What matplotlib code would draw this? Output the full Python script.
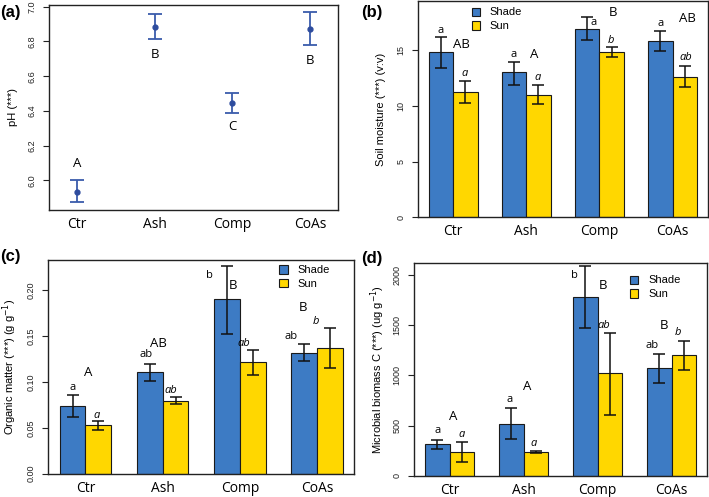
import matplotlib
matplotlib.use('Agg')
import matplotlib.pyplot as plt
import numpy as np

# ---------------- data ----------------
categories = ['Ctr', 'Ash', 'Comp', 'CoAs']

# (a) pH
ph_mean = [5.935, 6.886, 6.447, 6.871]
ph_low = [5.875, 6.817, 6.391, 6.777]
ph_high = [6.000, 6.961, 6.505, 6.971]
ph_letters = ['A', 'B', 'C', 'B']
ph_letter_y = [6.098, 6.727, 6.309, 6.693]

# (b) soil moisture
moist_shade = [14.85, 13.00, 16.90, 15.80]
moist_shade_lo = [13.39, 11.90, 15.89, 14.88]
moist_shade_hi = [16.19, 13.96, 17.95, 16.70]
moist_sun = [11.25, 11.01, 14.79, 12.62]
moist_sun_lo = [10.21, 10.18, 14.35, 11.73]
moist_sun_hi = [12.23, 11.88, 15.24, 13.54]
moist_shade_letters = ['a', 'a', 'a', 'a']
moist_group_letters = ['AB', 'A', 'B', 'AB']
moist_sun_letters = ['a', 'a', 'b', 'ab']

# (c) organic matter
om_shade = [0.0742, 0.1109, 0.1902, 0.1316]
om_shade_lo = [0.0615, 0.1011, 0.1520, 0.1225]
om_shade_hi = [0.0858, 0.1200, 0.2269, 0.1418]
om_sun = [0.0527, 0.0796, 0.1218, 0.1371]
om_sun_lo = [0.0476, 0.0756, 0.1080, 0.1149]
om_sun_hi = [0.0571, 0.0836, 0.1345, 0.1589]
om_shade_letters = ['a', 'ab', 'b', 'ab']
om_group_letters = ['A', 'AB', 'B', 'B']
om_sun_letters = ['a', 'ab', 'ab', 'b']

# (d) microbial biomass C
mb_shade = [315, 520, 1775, 1070]
mb_shade_lo = [272, 368, 1467, 924]
mb_shade_hi = [354, 676, 2083, 1215]
mb_sun = [238, 238, 1020, 1202]
mb_sun_lo = [142, 232, 606, 1050]
mb_sun_hi = [334, 248, 1417, 1344]
mb_shade_letters = ['a', 'a', 'b', 'ab']
mb_group_letters = ['A', 'A', 'B', 'B']
mb_sun_letters = ['a', 'a', 'ab', 'b']

# ---------------- annotation placement (data coords) ----------------
moist_shade_lpos = [(1.48, 16.79), (4.49, 14.64), (7.77, 17.47), (10.50, 17.38)]
moist_group_lpos = [(2.34, 15.54), (5.31, 14.64), (8.54, 18.36), (11.61, 17.86)]
moist_sun_lpos = [(2.47, 12.86), (5.47, 12.50), (8.48, 15.89), (11.55, 14.29)]

om_shade_lpos = [(1.49, 0.0938), (4.35, 0.130), (6.81, 0.216), (9.99, 0.1495)]
om_group_lpos = [(2.12, 0.110), (4.84, 0.1418), (7.74, 0.205), (10.46, 0.181)]
om_sun_lpos = [(2.45, 0.064), (5.32, 0.0909), (8.13, 0.1415), (10.96, 0.1665)]

mb_shade_lpos = [(1.50, 450), (4.45, 762), (7.06, 1993), (10.21, 1295)]
mb_group_lpos = [(2.14, 596), (5.16, 887), (8.22, 1897), (10.67, 1500)]
mb_sun_lpos = [(2.48, 417), (5.42, 321), (8.24, 1493), (11.24, 1427)]

# ---------------- style ----------------
BLUE = '#3D7BC4'
YELLOW = '#FFD700'
PT_BLUE = '#2E4C9E'
LINE_BLUE = '#3A5CAB'
EDGE = '#1a1a1a'
SPINE = '#222222'
TICKFONT = 'Liberation Sans'
LABFONT = 'Open Sans'

W, H = 709, 497
fig = plt.figure(figsize=(W / 100, H / 100), dpi=100)


def px_axes(l, t, r, b):
    return fig.add_axes([l / W, 1 - b / H, (r - l) / W, (b - t) / H])


def style_axes(ax, yticks, ylabels):
    for s in ax.spines.values():
        s.set_linewidth(1.0)
        s.set_color(SPINE)
    ax.set_yticks(yticks)
    ax.set_yticklabels(ylabels, rotation=90, va='center',
                       fontsize=6.5, family=TICKFONT, color='#222222')
    ax.tick_params(axis='y', direction='out', length=4.3, width=0.8,
                   color=SPINE, pad=4.5)
    ax.tick_params(axis='x', length=0, pad=5)


# ---------- (a) ----------
axa = px_axes(49, 5, 338, 210)
xa = np.arange(1, 5)
mean = np.array(ph_mean)
yerr = np.vstack([mean - np.array(ph_low), np.array(ph_high) - mean])
axa.errorbar(xa, mean, yerr=yerr, fmt='o', color=PT_BLUE, ecolor=LINE_BLUE,
             markersize=3.5, elinewidth=1.3, capsize=4.8, capthick=1.3)
axa.set_xlim(0.64, 4.36)
axa.set_ylim(5.83, 7.01)
style_axes(axa, [6.0, 6.2, 6.4, 6.6, 6.8, 7.0],
           ['6.0', '6.2', '6.4', '6.6', '6.8', '7.0'])
axa.set_xticks(xa)
axa.set_xticklabels(categories, fontsize=10, family=LABFONT)
for x, t, y in zip(xa, ph_letters, ph_letter_y):
    axa.text(x, y, t, ha='center', va='center', fontsize=9.5, family=LABFONT)
fig.text(13 / W, 1 - 107 / H, 'pH (***)', rotation=90, ha='center', va='center',
         fontsize=8, family=TICKFONT)


# ---------- bar panels ----------
def bar_panel(ax, shade, s_lo, s_hi, sun, s2_lo, s2_hi, ylim, yticks, ylabels,
              sh_let, sh_pos, gr_let, gr_pos, su_let, su_pos, leg_anchor):
    centers = np.array([2, 5, 8, 11], dtype=float)
    shade = np.array(shade, dtype=float)
    sun = np.array(sun, dtype=float)
    b1 = ax.bar(centers - 0.5, shade, width=1.0, color=BLUE, edgecolor=EDGE,
                linewidth=0.8, label='Shade', zorder=2)
    b2 = ax.bar(centers + 0.5, sun, width=1.0, color=YELLOW, edgecolor=EDGE,
                linewidth=0.8, label='Sun', zorder=2)
    ax.errorbar(centers - 0.5, shade,
                yerr=np.vstack([shade - np.array(s_lo), np.array(s_hi) - shade]),
                fmt='none', ecolor='#111111', elinewidth=1.1, capsize=4.6,
                capthick=1.1, zorder=3)
    ax.errorbar(centers + 0.5, sun,
                yerr=np.vstack([sun - np.array(s2_lo), np.array(s2_hi) - sun]),
                fmt='none', ecolor='#111111', elinewidth=1.1, capsize=4.6,
                capthick=1.1, zorder=3)
    ax.set_xlim(0.56, 12.44)
    ax.set_ylim(*ylim)
    style_axes(ax, yticks, ylabels)
    ax.set_xticks(centers)
    ax.set_xticklabels(categories, fontsize=10, family=LABFONT)
    for t, (x, y) in zip(sh_let, sh_pos):
        ax.text(x, y, t, ha='center', va='center', fontsize=8, family=LABFONT)
    for t, (x, y) in zip(gr_let, gr_pos):
        ax.text(x, y, t, ha='center', va='center', fontsize=9.5, family=LABFONT)
    for t, (x, y) in zip(su_let, su_pos):
        ax.text(x, y, t, ha='center', va='center', fontsize=8, family=LABFONT,
                style='italic')
    ax.legend(handles=[b1, b2], loc='upper left', bbox_to_anchor=leg_anchor,
              frameon=False, handlelength=0.75, handleheight=0.75,
              handletextpad=0.9, labelspacing=0.35, borderpad=0,
              borderaxespad=0, prop={'family': TICKFONT, 'size': 8})


axb = px_axes(418, 1, 707.7, 217.3)
bar_panel(axb, moist_shade, moist_shade_lo, moist_shade_hi,
          moist_sun, moist_sun_lo, moist_sun_hi, (0, 19.4),
          [0, 5, 10, 15], ['0', '5', '10', '15'],
          moist_shade_letters, moist_shade_lpos, moist_group_letters,
          moist_group_lpos, moist_sun_letters, moist_sun_lpos, (0.185, 0.97))
fig.text(381 / W, 1 - 109 / H, 'Soil moisture (***) (v:v)', rotation=90,
         ha='center', va='center', fontsize=8, family=TICKFONT)

axc = px_axes(48.3, 260, 354.3, 473.7)
bar_panel(axc, om_shade, om_shade_lo, om_shade_hi,
          om_sun, om_sun_lo, om_sun_hi, (0, 0.2331),
          [0, 0.05, 0.10, 0.15, 0.20], ['0.00', '0.05', '0.10', '0.15', '0.20'],
          om_shade_letters, om_shade_lpos, om_group_letters,
          om_group_lpos, om_sun_letters, om_sun_lpos, (0.755, 0.975))
fig.text(10 / W, 1 - 367 / H, 'Organic matter (***) (g g$^{-1}$)', rotation=90,
         ha='center', va='center', fontsize=8, family=TICKFONT)

axd = px_axes(414, 262.7, 707.3, 476)
bar_panel(axd, mb_shade, mb_shade_lo, mb_shade_hi,
          mb_sun, mb_sun_lo, mb_sun_hi, (0, 2119),
          [0, 500, 1000, 1500, 2000], ['0', '500', '1000', '1500', '2000'],
          mb_shade_letters, mb_shade_lpos, mb_group_letters,
          mb_group_lpos, mb_sun_letters, mb_sun_lpos, (0.737, 0.94))
fig.text(378 / W, 1 - 369 / H, 'Microbial biomass C (***) (ug g$^{-1}$)',
         rotation=90, ha='center', va='center', fontsize=8, family=TICKFONT)

# panel labels
for txt, x, y in [('(a)', 0, 12), ('(b)', 361, 13), ('(c)', 0, 257), ('(d)', 361, 258)]:
    fig.text(x / W, 1 - y / H, txt, ha='left', va='center', fontsize=12,
             fontweight='bold', family=TICKFONT)

fig.savefig('out.png', dpi=100)
